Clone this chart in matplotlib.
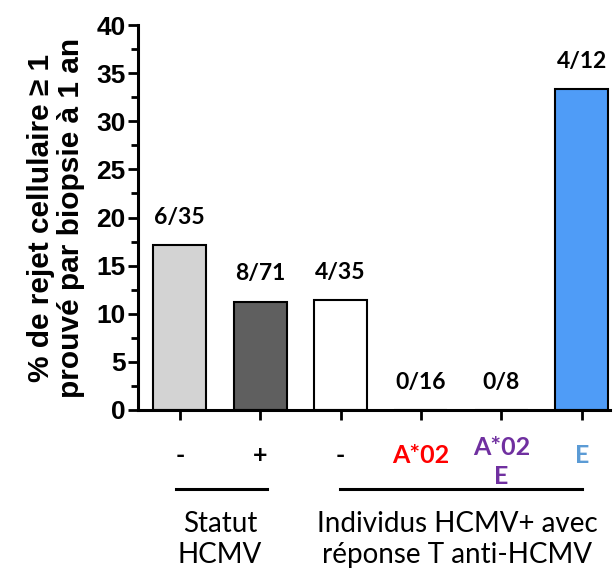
import matplotlib.pyplot as plt
import numpy as np
from matplotlib.ticker import MultipleLocator

# data
tick_labels = ["-", "+", "-", "A*02", "A*02\nE", "E"]
tick_colors = ["black", "black", "black", "#ff0000", "#7030a0", "#5b9bd5"]
values = [17.14, 11.27, 11.43, 0, 0, 33.33]
counts = ["6/35", "8/71", "4/35", "0/16", "0/8", "4/12"]
bar_colors = ["#d3d3d3", "#5f5f5f", "#ffffff", "#ffffff", "#ffffff", "#4f9cf7"]
groups = ["Statut\nHCMV", "Individus HCMV+ avec\nréponse T anti-HCMV"]

fig = plt.figure(figsize=(6.16, 5.71), dpi=100)
ax = fig.add_axes([0.224, 0.282, 0.766, 0.674])

x = np.arange(len(values))
ax.bar(x, values, width=0.66, color=bar_colors, edgecolor="black", linewidth=1.5)
ax.set_xlim(-0.52, 5.35)
ax.set_ylim(0, 40)

for xi, v, c in zip(x, values, counts):
    ax.text(xi, v + 1.8, c, ha="center", va="bottom", fontsize=16.5,
            fontweight="bold", family="Lato")

ax.spines["top"].set_visible(False)
ax.spines["right"].set_visible(False)
ax.spines["left"].set_linewidth(2.2)
ax.spines["bottom"].set_linewidth(2.2)

ax.yaxis.set_major_locator(MultipleLocator(5))
ax.yaxis.set_minor_locator(MultipleLocator(2.5))
ax.tick_params(axis="y", which="major", length=7, width=2, labelsize=19, pad=2)
ax.tick_params(axis="y", which="minor", length=5, width=2)
for lab in ax.get_yticklabels():
    lab.set_fontweight("bold")
    lab.set_family("Liberation Sans")

ax.set_xticks(x)
ax.set_xticklabels([])
ax.tick_params(axis="x", length=7, width=2)

# colored category labels
for xi, lab, col in zip(x, tick_labels, tick_colors):
    ax.text(xi, -5.4 if "\n" in lab else -4.7, lab, ha="center", va="center",
            color=col, fontsize=18, fontweight="bold", family="Lato",
            linespacing=1.3, clip_on=False)

# group lines and labels
ax.plot([-0.05, 1.09], [-8.2, -8.2], color="black", lw=2.2, clip_on=False)
ax.plot([1.99, 5.0], [-8.2, -8.2], color="black", lw=2.2, clip_on=False)
ax.text(0.5, -13.5, groups[0], ha="center", va="center", fontsize=20,
        family="Lato", linespacing=1.25, clip_on=False)
ax.text(3.45, -13.5, groups[1], ha="center", va="center", fontsize=20,
        family="Lato", linespacing=1.25, clip_on=False)

ax.set_ylabel("% de rejet cellulaire \u2265 1\nprouvé par biopsie à 1 an",
              fontsize=21.5, fontweight="bold", family="Liberation Sans",
              linespacing=1.1, labelpad=8)

fig.savefig("out.png", dpi=100)
